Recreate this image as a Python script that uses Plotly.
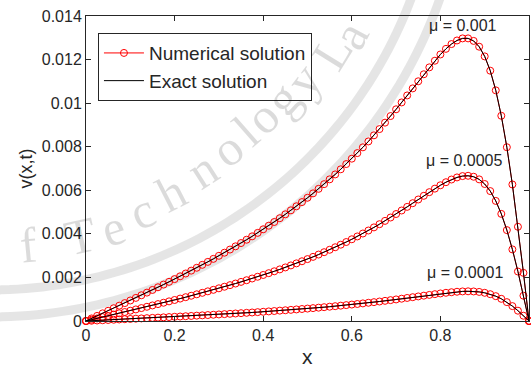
import math
import plotly.graph_objects as go

# ---------------- data ----------------
x_vals = [0, 0.0125, 0.025, 0.0375, 0.05, 0.0625, 0.075, 0.0875, 0.1, 0.1125,
          0.125, 0.1375, 0.15, 0.1625, 0.175, 0.1875, 0.2, 0.2125, 0.225, 0.2375,
          0.25, 0.2625, 0.275, 0.2875, 0.3, 0.3125, 0.325, 0.3375, 0.35, 0.3625,
          0.375, 0.3875, 0.4, 0.4125, 0.425, 0.4375, 0.45, 0.4625, 0.475, 0.4875,
          0.5, 0.5125, 0.525, 0.5375, 0.55, 0.5625, 0.575, 0.5875, 0.6, 0.6125,
          0.625, 0.6375, 0.65, 0.6625, 0.675, 0.6875, 0.7, 0.7125, 0.725, 0.7375,
          0.75, 0.7625, 0.775, 0.7875, 0.8, 0.8125, 0.825, 0.8375, 0.85, 0.8625,
          0.875, 0.8875, 0.9, 0.9125, 0.925, 0.9375, 0.95, 0.9625, 0.975, 0.9875, 1.0]

v_mu_0001 = [0, 0.0001169, 0.0002339, 0.0003510, 0.0004684, 0.0005860, 0.0007041, 0.0008226,
             0.0009416, 0.0010613, 0.0011817, 0.0013029, 0.0014249, 0.0015479, 0.0016720,
             0.0017972, 0.0019236, 0.0020514, 0.0021806, 0.0023114, 0.0024438, 0.0025780,
             0.0027141, 0.0028522, 0.0029924, 0.0031349, 0.0032798, 0.0034273, 0.0035775,
             0.0037305, 0.0038866, 0.0040458, 0.0042085, 0.0043747, 0.0045446, 0.0047187,
             0.0048968, 0.0050793, 0.0052665, 0.0054587, 0.0056559, 0.0058586, 0.0060670,
             0.0062813, 0.0065018, 0.0067289, 0.0069628, 0.0072037, 0.0074519, 0.0077078,
             0.0079713, 0.0082427, 0.0085222, 0.0088096, 0.0091048, 0.0094073, 0.0097172,
             0.0100328, 0.0103537, 0.0106774, 0.0110029, 0.0113255, 0.0116423, 0.0119472,
             0.0122338, 0.0124922, 0.0127116, 0.0128773, 0.0129719, 0.0129728, 0.0128562,
             0.0125914, 0.0121467, 0.0114890, 0.0105876, 0.0094206, 0.0079766, 0.0062674,
             0.0043248, 0.0022089, 0]

v_mu_00005 = [0, 0.0000586, 0.0001173, 0.0001760, 0.0002348, 0.0002938, 0.0003530, 0.0004124,
              0.0004721, 0.0005321, 0.0005924, 0.0006532, 0.0007144, 0.0007761, 0.0008383,
              0.0009011, 0.0009645, 0.0010286, 0.0010935, 0.0011591, 0.0012256, 0.0012929,
              0.0013613, 0.0014306, 0.0015010, 0.0015726, 0.0016454, 0.0017195, 0.0017950,
              0.0018719, 0.0019504, 0.0020305, 0.0021123, 0.0021960, 0.0022816, 0.0023692,
              0.0024589, 0.0025510, 0.0026454, 0.0027423, 0.0028419, 0.0029443, 0.0030496,
              0.0031580, 0.0032696, 0.0033846, 0.0035032, 0.0036254, 0.0037516, 0.0038816,
              0.0040158, 0.0041542, 0.0042968, 0.0044438, 0.0045951, 0.0047504, 0.0049099,
              0.0050727, 0.0052388, 0.0054072, 0.0055769, 0.0057462, 0.0059134, 0.0060757,
              0.0062296, 0.0063709, 0.0064936, 0.0065899, 0.0066517, 0.0066661, 0.0066218,
              0.0065013, 0.0062884, 0.0059639, 0.0055115, 0.0049171, 0.0041736, 0.0032860,
              0.0022711, 0.0011612, 0]

v_mu_00001 = [0, 0.00001175, 0.00002350, 0.00003527, 0.00004706, 0.00005888, 0.00007074,
              0.00008265, 0.00009462, 0.00010664, 0.00011874, 0.00013092, 0.00014319,
              0.00015556, 0.00016804, 0.00018063, 0.00019335, 0.00020620, 0.00021921,
              0.00023238, 0.00024571, 0.00025922, 0.00027293, 0.00028685, 0.00030098,
              0.00031535, 0.00032997, 0.00034485, 0.00036000, 0.00037546, 0.00039123,
              0.00040732, 0.00042378, 0.00044060, 0.00045781, 0.00047544, 0.00049350,
              0.00051203, 0.00053104, 0.00055057, 0.00057064, 0.00059128, 0.00061253,
              0.00063441, 0.00065695, 0.00068019, 0.00070417, 0.00072890, 0.00075444,
              0.00078081, 0.00080802, 0.00083614, 0.00086515, 0.00089509, 0.00092592,
              0.00095768, 0.00099031, 0.0010237, 0.0010579, 0.0010926, 0.0011277,
              0.0011629, 0.0011978, 0.0012319, 0.0012645, 0.0012947, 0.0013214, 0.0013431,
              0.0013578, 0.0013633, 0.0013569, 0.0013350, 0.0012942, 0.0012303, 0.0011396,
              0.0010190, 0.00086672, 0.00068372, 0.00047323, 0.00024217, 0]

series = [v_mu_0001, v_mu_00005, v_mu_00001]
curve_labels = ["μ = 0.001", "μ = 0.0005", "μ = 0.0001"]
label_x = [0.852, 0.853, 0.856]
label_y = [0.01358, 0.00739, 0.00222]

x_ticks = [0, 0.2, 0.4, 0.6, 0.8, 1]
x_ticktext = ["0", "0.2", "0.4", "0.6", "0.8", "1"]
y_ticks = [0, 0.002, 0.004, 0.006, 0.008, 0.010, 0.012, 0.014]
y_ticktext = ["0", "0.002", "0.004", "0.006", "0.008", "0.01", "0.012", "0.014"]

# ---------------- figure ----------------
W, H = 531, 367
ML, MR, MT, MB = 86, 2, 16, 46
PW, PH = W - ML - MR, H - MT - MB
FONT = "Liberation Sans, Arial, Helvetica, sans-serif"
INK = "#262626"

fig = go.Figure()

for i, v in enumerate(series):
    fig.add_trace(go.Scatter(
        x=x_vals, y=v, mode="lines+markers", name="Numerical solution",
        legendgroup="num", showlegend=(i == 0), cliponaxis=False,
        line=dict(color="#ff0000", width=1),
        marker=dict(symbol="circle-open", size=7, color="#ff0000", line=dict(width=1)),
    ))
for i, v in enumerate(series):
    fig.add_trace(go.Scatter(
        x=x_vals, y=v, mode="lines", name="Exact solution",
        legendgroup="exact", showlegend=(i == 0), cliponaxis=False,
        line=dict(color="#000000", width=1),
    ))


def px2paper(px, py):
    return (px - ML) / PW, (H - MB - py) / PH


# faint watermark (seal text and rings) in the background
shapes = []
cx, cy = -10, -160
for R in (450, 477):
    pts = []
    for k in range(0, 81):
        b = math.radians(-8 + k * 1.05)
        px, py = cx + R * math.sin(b), cy + R * math.cos(b)
        pts.append(px2paper(px, py))
    path = "M " + " L ".join(f"{a:.4f},{b:.4f}" for a, b in pts)
    shapes.append(dict(type="path", path=path, xref="paper", yref="paper",
                       line=dict(color="rgba(0,0,0,0.10)", width=9), layer="below"))

annotations = []
wm_letters = [("f", 28, 245), ("T", 80, 236), ("e", 113, 228), ("c", 142, 211),
              ("h", 171, 193), ("n", 202, 170), ("o", 227, 149), ("l", 246, 131),
              ("o", 262, 117), ("g", 282, 99), ("y", 303, 80), ("L", 332, 52),
              ("a", 350, 35)]
for ch, px, py in wm_letters:
    ang = math.degrees(math.atan2(cx - px, py - cy))
    ax_, ay_ = px2paper(px, py)
    annotations.append(dict(text=ch, x=ax_, y=ay_, xref="paper", yref="paper",
                            showarrow=False, textangle=ang,
                            font=dict(family="Liberation Serif, DejaVu Serif, serif",
                                      size=50, color="rgba(0,0,0,0.14)"),
                            xanchor="center", yanchor="middle"))

for t, lx, ly in zip(curve_labels, label_x, label_y):
    annotations.append(dict(text=t, x=lx, y=ly, xref="x", yref="y", showarrow=False,
                            font=dict(family=FONT, size=16, color=INK),
                            xanchor="center", yanchor="middle"))

# axis titles
annotations.append(dict(text="x", x=0.5, y=0, xref="paper", yref="paper", showarrow=False,
                        yshift=-35, xanchor="center", yanchor="middle",
                        font=dict(family=FONT, size=21, color=INK)))
annotations.append(dict(text="v(x,t)", x=0, y=0.5, xref="paper", yref="paper",
                        showarrow=False, xshift=-61, textangle=-90,
                        xanchor="center", yanchor="middle",
                        font=dict(family=FONT, size=18, color=INK)))

axis_common = dict(showgrid=False, zeroline=False, showline=True, linecolor=INK,
                   linewidth=1, mirror="ticks", ticks="inside", ticklen=5,
                   tickcolor=INK, tickwidth=1,
                   tickfont=dict(family=FONT, size=16, color=INK))

fig.update_layout(
    width=W, height=H,
    margin=dict(l=ML, r=MR, t=MT, b=MB, pad=0),
    paper_bgcolor="white", plot_bgcolor="white",
    xaxis=dict(range=[0, 1], tickvals=x_ticks, ticktext=x_ticktext, **axis_common),
    yaxis=dict(range=[0, 0.014], tickvals=y_ticks, ticktext=y_ticktext, **axis_common),
    showlegend=True,
    legend=dict(x=0.027, y=0.944, xanchor="left", yanchor="top",
                bgcolor="rgba(255,255,255,0)", bordercolor=INK, borderwidth=1,
                font=dict(family=FONT, size=19, color=INK), tracegroupgap=0,
                itemwidth=40),
    shapes=shapes,
    annotations=annotations,
)

fig.write_html(
    "out.html",
    config={"displayModeBar": False},
    post_script="document.body.style.margin='0px';document.body.style.overflow='hidden';",
)
